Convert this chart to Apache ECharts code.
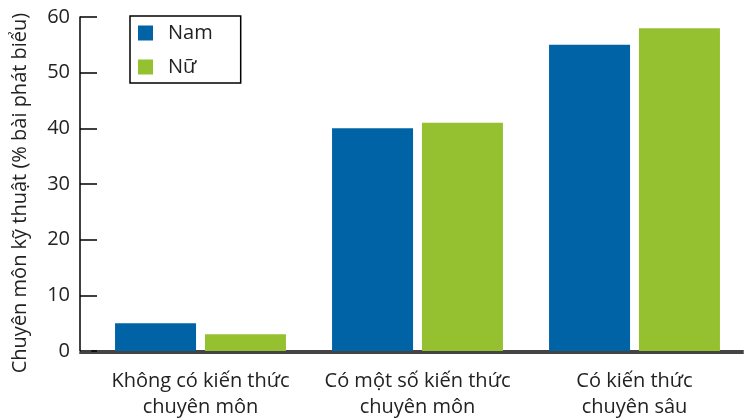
<!DOCTYPE html>
<html>
<head>
<meta charset="utf-8">
<script src="https://cdn.jsdelivr.net/npm/echarts@6/dist/echarts.min.js"></script>
<style>
  html, body { margin: 0; padding: 0; background: #fff; }
  #chart { width: 745px; height: 420px; }
</style>
</head>
<body>
<div id="chart"></div>
<script>
const categories = ['Không có kiến thức\nchuyên môn', 'Có một số kiến thức\nchuyên môn', 'Có kiến thức\nchuyên sâu']
const namValues = [5, 40, 55]
const nuValues = [3, 41, 58]
const yTicks = { min: 0, max: 60, interval: 10 }

const font = '"Open Sans", "Noto Sans", sans-serif'
const chart = echarts.init(document.getElementById('chart'))

chart.setOption({
  animation: false,
  textStyle: { fontFamily: font },
  legend: {
    left: 130, top: 16,
    orient: 'vertical',
    icon: 'rect',
    itemWidth: 15, itemHeight: 15, itemGap: 14,
    padding: [7, 28, 6, 8],
    borderColor: '#000', borderWidth: 1.5,
    textStyle: { fontSize: 20, color: '#222', fontFamily: font, padding: [0, 0, 0, 10] },
    data: ['Nam', 'Nữ']
  },
  grid: [
    { left: 92, right: 2, top: 17, bottom: 67 },
    { left: 80, right: 2, top: 17, bottom: 67 }
  ],
  xAxis: [
    {
      type: 'category', data: categories, gridIndex: 0,
      axisLine: { lineStyle: { color: '#444', width: 2 } },
      axisTick: { show: false },
      axisLabel: { interval: 0, fontSize: 20, lineHeight: 26, margin: 17, color: '#222', fontFamily: font }
    },
    {
      type: 'value', gridIndex: 1,
      axisLine: { show: true, onZero: false, lineStyle: { color: '#444', width: 2 } },
      axisTick: { show: false }, axisLabel: { show: false }, splitLine: { show: false }
    }
  ],
  yAxis: [
    {
      type: 'value', gridIndex: 0, offset: 12,
      min: yTicks.min, max: yTicks.max, interval: yTicks.interval,
      name: 'Chuyên môn kỹ thuật (% bài phát biểu)',
      nameLocation: 'middle', nameGap: 50,
      nameTextStyle: { fontSize: 20, color: '#222', fontFamily: font, padding: [0, 18, 0, 0] },
      axisLine: { show: true, lineStyle: { color: '#000', width: 1.5 } },
      axisTick: { show: true, inside: true, length: 17, lineStyle: { color: '#000', width: 1.5 } },
      axisLabel: { fontSize: 20, margin: 10, color: '#222', fontFamily: font },
      splitLine: { show: false }
    },
    {
      type: 'value', gridIndex: 1, show: false
    }
  ],
  series: [
    {
      name: 'Nam', type: 'bar', data: namValues,
      barWidth: 81, barGap: '11%',
      itemStyle: { color: '#0063a6' }
    },
    {
      name: 'Nữ', type: 'bar', data: nuValues,
      barWidth: 81, barGap: '11%',
      itemStyle: { color: '#95c131' }
    }
  ]
})
</script>
</body>
</html>
